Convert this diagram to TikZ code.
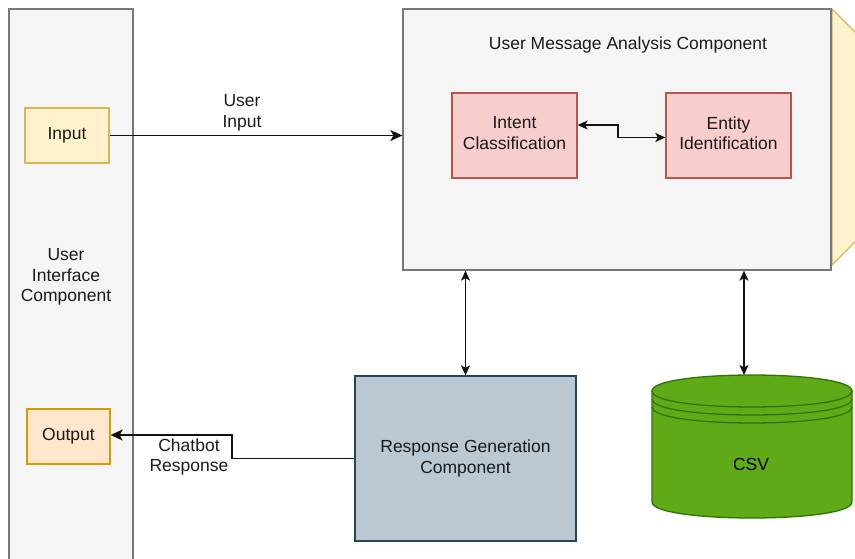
\documentclass[tikz,border=0pt]{standalone}
\usepackage{fontspec}
\setmainfont{Liberation Sans}
\usetikzlibrary{arrows.meta}
\definecolor{txt}{HTML}{1A1A1A}
\definecolor{panelfill}{HTML}{F5F5F5}
\definecolor{panelline}{HTML}{777777}
\definecolor{yelfill}{HTML}{FFF2CC}
\definecolor{yelline}{HTML}{D6B656}
\definecolor{orfill}{HTML}{FFE6CC}
\definecolor{orline}{HTML}{D79B00}
\definecolor{pkfill}{HTML}{F8CECC}
\definecolor{pkline}{HTML}{B85450}
\definecolor{blfill}{HTML}{BAC8D3}
\definecolor{blline}{HTML}{23445D}
\definecolor{grfill}{HTML}{60A917}
\definecolor{grline}{HTML}{2D7600}
\definecolor{conn}{HTML}{111111}
\tikzset{
  base/.style={draw, line width=1.3pt, inner sep=0pt, align=center, text=txt,
    font=\fontsize{17.5}{20.5}\selectfont},
  panel/.style={base, fill=panelfill, draw=panelline},
  yelbox/.style={base, fill=yelfill, draw=yelline},
  orbox/.style={base, fill=orfill, draw=orline},
  pkbox/.style={base, fill=pkfill, draw=pkline},
  blbox/.style={base, fill=blfill, draw=blline},
  lbl/.style={inner sep=0pt, align=center, text=txt, font=\fontsize{17.5}{20.5}\selectfont},
  arr/.style={draw=conn, line width=1.6pt, -{Stealth[length=12pt,width=11pt,inset=3pt]}},
  biarr/.style={draw=conn, line width=1.6pt, {Stealth[length=10pt,width=9pt,inset=2.5pt]}-{Stealth[length=10pt,width=9pt,inset=2.5pt]}},
}
\begin{document}
\begin{tikzpicture}[x=1pt,y=-1pt]
\useasboundingbox (0,0) rectangle (855,558);
\clip (0,0) rectangle (855,558);
% right yellow side shape (cut off)
\draw[line width=1.3pt, fill=yelfill, draw=yelline] (832,9) -- (880,57) -- (880,217) -- (832,265) -- cycle;
% left panel
\node[panel, minimum width=124pt, minimum height=591pt] (ui) at (71,304.5) {};
\node[lbl] (uitext) at (66,277) {User\\Interface\\Component};
\node[yelbox, minimum width=84pt, minimum height=55pt] (input) at (67,135.5) {Input};
\node[orbox, minimum width=83pt, minimum height=55pt] (output) at (68.5,436.5) {Output};
% analysis component
\node[panel, minimum width=428pt, minimum height=261pt] (uma) at (617,139.5) {};
\node[lbl] (umatext) at (628,45) {User Message Analysis Component};
\node[pkbox, minimum width=125pt, minimum height=85pt] (intent) at (514.5,135.5) {Intent\\Classification\\[-15.5pt]};
\node[pkbox, minimum width=125pt, minimum height=85pt] (entity) at (728.5,135.5) {Entity\\Identification\\[-15.5pt]};
% response generation
\node[blbox, minimum width=221pt, minimum height=165pt] (resp) at (465.5,458.5) {Response Generation\\Component};
% CSV datastore
\path[fill=grfill, draw=grline, line width=1.3pt]
  (652,391) -- (652,502) .. controls (652,523.33) and (852,523.33) .. (852,502)
  -- (852,391) .. controls (852,369.67) and (652,369.67) .. (652,391) -- cycle;
\draw[grline, line width=1.3pt] (652,391) .. controls (652,412.33) and (852,412.33) .. (852,391);
\draw[grline, line width=1.3pt] (652,399) .. controls (652,420.33) and (852,420.33) .. (852,399);
\draw[grline, line width=1.3pt] (652,407) .. controls (652,428.33) and (852,428.33) .. (852,407);
\node[lbl, text=black] (csv) at (751,464) {CSV};
\coordinate (csvtop) at (744,375);
% connectors
\draw[arr] (input.east) -- (input.east -| uma.west);
\node[lbl] (uilabel) at (242,113) {User\\Input};
\draw[biarr] ([yshift=10.5pt]intent.east) -- (618,125) -- (618,137.5) -- (entity.west |- 0,137.5);
\draw[biarr] (resp.north |- uma.south) -- (resp.north);
\draw[biarr] (csvtop |- uma.south) -- (csvtop);
\draw[arr] (resp.west) -- (232,458.5) -- (232,435) -- (output.east |- 0,435);
\node[lbl] (crlabel) at (189,457) {Chatbot\\Response};
\end{tikzpicture}
\end{document}
